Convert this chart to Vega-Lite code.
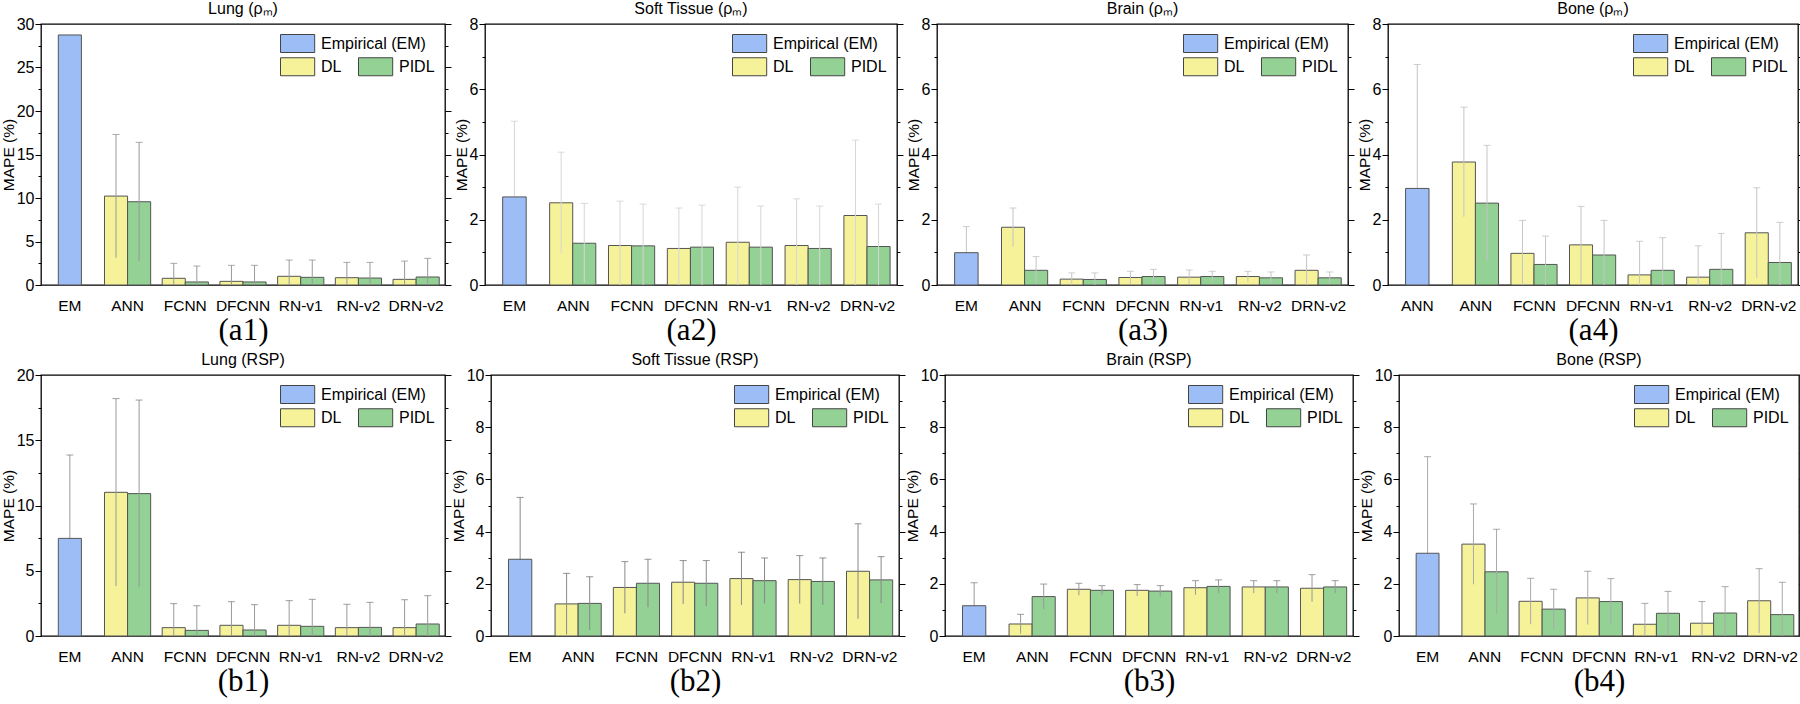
{
  "$schema": "https://vega.github.io/schema/vega-lite/v6.json",
  "padding": {"left": 0, "top": 0, "right": 0, "bottom": 0},
  "background": "white",
  "datasets": {
    "d": [
      {"p": "a1", "model": "EM", "method": "Empirical (EM)", "value": 28.74},
      {"p": "a1", "model": "ANN", "method": "DL", "value": 10.22, "lo": 3.14, "hi": 17.3},
      {"p": "a1", "model": "ANN", "method": "PIDL", "value": 9.57, "lo": 2.74, "hi": 16.4},
      {"p": "a1", "model": "FCNN", "method": "DL", "value": 0.77, "lo": 0, "hi": 2.49},
      {"p": "a1", "model": "FCNN", "method": "PIDL", "value": 0.35, "lo": 0, "hi": 2.18},
      {"p": "a1", "model": "DFCNN", "method": "DL", "value": 0.42, "lo": 0, "hi": 2.26},
      {"p": "a1", "model": "DFCNN", "method": "PIDL", "value": 0.35, "lo": 0, "hi": 2.26},
      {"p": "a1", "model": "RN-v1", "method": "DL", "value": 1.0, "lo": 0, "hi": 2.87},
      {"p": "a1", "model": "RN-v1", "method": "PIDL", "value": 0.88, "lo": 0, "hi": 2.87},
      {"p": "a1", "model": "RN-v2", "method": "DL", "value": 0.84, "lo": 0, "hi": 2.6},
      {"p": "a1", "model": "RN-v2", "method": "PIDL", "value": 0.8, "lo": 0, "hi": 2.6},
      {"p": "a1", "model": "DRN-v2", "method": "DL", "value": 0.65, "lo": 0, "hi": 2.75},
      {"p": "a1", "model": "DRN-v2", "method": "PIDL", "value": 0.92, "lo": 0, "hi": 3.06},

      {"p": "a2", "model": "EM", "method": "Empirical (EM)", "value": 2.7, "lo": 0.38, "hi": 5.02},
      {"p": "a2", "model": "ANN", "method": "DL", "value": 2.52, "lo": 0.97, "hi": 4.07},
      {"p": "a2", "model": "ANN", "method": "PIDL", "value": 1.28, "lo": 0.06, "hi": 2.5},
      {"p": "a2", "model": "FCNN", "method": "DL", "value": 1.21, "lo": 0, "hi": 2.57},
      {"p": "a2", "model": "FCNN", "method": "PIDL", "value": 1.2, "lo": 0, "hi": 2.48},
      {"p": "a2", "model": "DFCNN", "method": "DL", "value": 1.12, "lo": 0, "hi": 2.36},
      {"p": "a2", "model": "DFCNN", "method": "PIDL", "value": 1.16, "lo": 0, "hi": 2.45},
      {"p": "a2", "model": "RN-v1", "method": "DL", "value": 1.31, "lo": 0, "hi": 3.0},
      {"p": "a2", "model": "RN-v1", "method": "PIDL", "value": 1.16, "lo": 0, "hi": 2.42},
      {"p": "a2", "model": "RN-v2", "method": "DL", "value": 1.21, "lo": 0, "hi": 2.64},
      {"p": "a2", "model": "RN-v2", "method": "PIDL", "value": 1.12, "lo": 0, "hi": 2.42},
      {"p": "a2", "model": "DRN-v2", "method": "DL", "value": 2.13, "lo": 0, "hi": 4.44},
      {"p": "a2", "model": "DRN-v2", "method": "PIDL", "value": 1.18, "lo": 0, "hi": 2.48},

      {"p": "a3", "model": "EM", "method": "Empirical (EM)", "value": 0.99, "lo": 0.19, "hi": 1.79},
      {"p": "a3", "model": "ANN", "method": "DL", "value": 1.77, "lo": 1.18, "hi": 2.36},
      {"p": "a3", "model": "ANN", "method": "PIDL", "value": 0.45, "lo": 0.03, "hi": 0.87},
      {"p": "a3", "model": "FCNN", "method": "DL", "value": 0.18, "lo": 0, "hi": 0.37},
      {"p": "a3", "model": "FCNN", "method": "PIDL", "value": 0.17, "lo": 0, "hi": 0.37},
      {"p": "a3", "model": "DFCNN", "method": "DL", "value": 0.23, "lo": 0.04, "hi": 0.42},
      {"p": "a3", "model": "DFCNN", "method": "PIDL", "value": 0.26, "lo": 0.04, "hi": 0.48},
      {"p": "a3", "model": "RN-v1", "method": "DL", "value": 0.24, "lo": 0.02, "hi": 0.46},
      {"p": "a3", "model": "RN-v1", "method": "PIDL", "value": 0.26, "lo": 0.1, "hi": 0.42},
      {"p": "a3", "model": "RN-v2", "method": "DL", "value": 0.26, "lo": 0.1, "hi": 0.42},
      {"p": "a3", "model": "RN-v2", "method": "PIDL", "value": 0.22, "lo": 0.04, "hi": 0.4},
      {"p": "a3", "model": "DRN-v2", "method": "DL", "value": 0.45, "lo": 0, "hi": 0.92},
      {"p": "a3", "model": "DRN-v2", "method": "PIDL", "value": 0.22, "lo": 0.04, "hi": 0.4},

      {"p": "a4", "model": "EM", "method": "Empirical (EM)", "value": 2.96, "lo": 0, "hi": 6.76},
      {"p": "a4", "model": "ANN", "method": "DL", "value": 3.77, "lo": 2.09, "hi": 5.45},
      {"p": "a4", "model": "ANN", "method": "PIDL", "value": 2.51, "lo": 0.74, "hi": 4.28},
      {"p": "a4", "model": "FCNN", "method": "DL", "value": 0.97, "lo": 0, "hi": 1.98},
      {"p": "a4", "model": "FCNN", "method": "PIDL", "value": 0.63, "lo": 0, "hi": 1.5},
      {"p": "a4", "model": "DFCNN", "method": "DL", "value": 1.23, "lo": 0.05, "hi": 2.41},
      {"p": "a4", "model": "DFCNN", "method": "PIDL", "value": 0.92, "lo": 0, "hi": 1.98},
      {"p": "a4", "model": "RN-v1", "method": "DL", "value": 0.31, "lo": 0, "hi": 1.34},
      {"p": "a4", "model": "RN-v1", "method": "PIDL", "value": 0.45, "lo": 0, "hi": 1.45},
      {"p": "a4", "model": "RN-v2", "method": "DL", "value": 0.24, "lo": 0, "hi": 1.2},
      {"p": "a4", "model": "RN-v2", "method": "PIDL", "value": 0.48, "lo": 0, "hi": 1.58},
      {"p": "a4", "model": "DRN-v2", "method": "DL", "value": 1.6, "lo": 0.22, "hi": 2.98},
      {"p": "a4", "model": "DRN-v2", "method": "PIDL", "value": 0.69, "lo": 0, "hi": 1.92},

      {"p": "b1", "model": "EM", "method": "Empirical (EM)", "value": 7.48, "lo": 1.09, "hi": 13.87},
      {"p": "b1", "model": "ANN", "method": "DL", "value": 11.01, "lo": 3.83, "hi": 18.19},
      {"p": "b1", "model": "ANN", "method": "PIDL", "value": 10.91, "lo": 3.74, "hi": 18.08},
      {"p": "b1", "model": "FCNN", "method": "DL", "value": 0.64, "lo": 0, "hi": 2.48},
      {"p": "b1", "model": "FCNN", "method": "PIDL", "value": 0.43, "lo": 0, "hi": 2.32},
      {"p": "b1", "model": "DFCNN", "method": "DL", "value": 0.82, "lo": 0, "hi": 2.63},
      {"p": "b1", "model": "DFCNN", "method": "PIDL", "value": 0.46, "lo": 0, "hi": 2.4},
      {"p": "b1", "model": "RN-v1", "method": "DL", "value": 0.82, "lo": 0, "hi": 2.71},
      {"p": "b1", "model": "RN-v1", "method": "PIDL", "value": 0.74, "lo": 0, "hi": 2.81},
      {"p": "b1", "model": "RN-v2", "method": "DL", "value": 0.64, "lo": 0, "hi": 2.43},
      {"p": "b1", "model": "RN-v2", "method": "PIDL", "value": 0.66, "lo": 0, "hi": 2.58},
      {"p": "b1", "model": "DRN-v2", "method": "DL", "value": 0.64, "lo": 0, "hi": 2.78},
      {"p": "b1", "model": "DRN-v2", "method": "PIDL", "value": 0.92, "lo": 0, "hi": 3.09},

      {"p": "b2", "model": "EM", "method": "Empirical (EM)", "value": 2.94, "lo": 0.57, "hi": 5.31},
      {"p": "b2", "model": "ANN", "method": "DL", "value": 1.23, "lo": 0.06, "hi": 2.4},
      {"p": "b2", "model": "ANN", "method": "PIDL", "value": 1.25, "lo": 0.23, "hi": 2.27},
      {"p": "b2", "model": "FCNN", "method": "DL", "value": 1.86, "lo": 0.87, "hi": 2.85},
      {"p": "b2", "model": "FCNN", "method": "PIDL", "value": 2.02, "lo": 1.1, "hi": 2.94},
      {"p": "b2", "model": "DFCNN", "method": "DL", "value": 2.06, "lo": 1.23, "hi": 2.89},
      {"p": "b2", "model": "DFCNN", "method": "PIDL", "value": 2.02, "lo": 1.15, "hi": 2.89},
      {"p": "b2", "model": "RN-v1", "method": "DL", "value": 2.2, "lo": 1.19, "hi": 3.21},
      {"p": "b2", "model": "RN-v1", "method": "PIDL", "value": 2.12, "lo": 1.25, "hi": 2.99},
      {"p": "b2", "model": "RN-v2", "method": "DL", "value": 2.16, "lo": 1.24, "hi": 3.08},
      {"p": "b2", "model": "RN-v2", "method": "PIDL", "value": 2.09, "lo": 1.19, "hi": 2.99},
      {"p": "b2", "model": "DRN-v2", "method": "DL", "value": 2.48, "lo": 0.66, "hi": 4.3},
      {"p": "b2", "model": "DRN-v2", "method": "PIDL", "value": 2.15, "lo": 1.26, "hi": 3.04},

      {"p": "b3", "model": "EM", "method": "Empirical (EM)", "value": 1.16, "lo": 0.28, "hi": 2.04},
      {"p": "b3", "model": "ANN", "method": "DL", "value": 0.46, "lo": 0.09, "hi": 0.83},
      {"p": "b3", "model": "ANN", "method": "PIDL", "value": 1.51, "lo": 1.03, "hi": 1.99},
      {"p": "b3", "model": "FCNN", "method": "DL", "value": 1.79, "lo": 1.56, "hi": 2.02},
      {"p": "b3", "model": "FCNN", "method": "PIDL", "value": 1.75, "lo": 1.57, "hi": 1.93},
      {"p": "b3", "model": "DFCNN", "method": "DL", "value": 1.75, "lo": 1.53, "hi": 1.97},
      {"p": "b3", "model": "DFCNN", "method": "PIDL", "value": 1.72, "lo": 1.51, "hi": 1.93},
      {"p": "b3", "model": "RN-v1", "method": "DL", "value": 1.85, "lo": 1.58, "hi": 2.12},
      {"p": "b3", "model": "RN-v1", "method": "PIDL", "value": 1.9, "lo": 1.65, "hi": 2.15},
      {"p": "b3", "model": "RN-v2", "method": "DL", "value": 1.88, "lo": 1.64, "hi": 2.12},
      {"p": "b3", "model": "RN-v2", "method": "PIDL", "value": 1.88, "lo": 1.64, "hi": 2.12},
      {"p": "b3", "model": "DRN-v2", "method": "DL", "value": 1.83, "lo": 1.31, "hi": 2.35},
      {"p": "b3", "model": "DRN-v2", "method": "PIDL", "value": 1.88, "lo": 1.64, "hi": 2.12},

      {"p": "b4", "model": "EM", "method": "Empirical (EM)", "value": 3.17, "lo": 0, "hi": 6.87},
      {"p": "b4", "model": "ANN", "method": "DL", "value": 3.52, "lo": 1.98, "hi": 5.06},
      {"p": "b4", "model": "ANN", "method": "PIDL", "value": 2.46, "lo": 0.83, "hi": 4.09},
      {"p": "b4", "model": "FCNN", "method": "DL", "value": 1.33, "lo": 0.45, "hi": 2.21},
      {"p": "b4", "model": "FCNN", "method": "PIDL", "value": 1.03, "lo": 0.27, "hi": 1.79},
      {"p": "b4", "model": "DFCNN", "method": "DL", "value": 1.46, "lo": 0.44, "hi": 2.48},
      {"p": "b4", "model": "DFCNN", "method": "PIDL", "value": 1.32, "lo": 0.44, "hi": 2.2},
      {"p": "b4", "model": "RN-v1", "method": "DL", "value": 0.45, "lo": 0, "hi": 1.25},
      {"p": "b4", "model": "RN-v1", "method": "PIDL", "value": 0.87, "lo": 0.03, "hi": 1.71},
      {"p": "b4", "model": "RN-v2", "method": "DL", "value": 0.49, "lo": 0, "hi": 1.32},
      {"p": "b4", "model": "RN-v2", "method": "PIDL", "value": 0.88, "lo": 0, "hi": 1.89},
      {"p": "b4", "model": "DRN-v2", "method": "DL", "value": 1.35, "lo": 0.12, "hi": 2.58},
      {"p": "b4", "model": "DRN-v2", "method": "PIDL", "value": 0.82, "lo": 0, "hi": 2.06}
    ]
  },
  "data": {"name": "d"},
  "vconcat": [
    {
      "hconcat": [
        {
          "width": 404, "height": 261, "title": "Lung (ρₘ)",
          "transform": [{"filter": "datum.p == 'a1'"}],
          "encoding": {"x": {"field": "model", "type": "nominal", "sort": ["EM","ANN","FCNN","DFCNN","RN-v1","RN-v2","DRN-v2"], "scale": {"paddingInner": 0, "paddingOuter": 0}, "axis": {"title": "(a1)"}}},
          "layer": [
            {"transform": [{"filter": "datum.method == 'Empirical (EM)' && isValid(datum.hi)"}], "mark": {"type": "rule", "color": "#999999"}, "encoding": {"y": {"field": "lo", "type": "quantitative", "scale": {"domain": [0, 30], "nice": false}, "axis": null}, "y2": {"field": "hi"}}},
            {"transform": [{"filter": "datum.method == 'Empirical (EM)' && isValid(datum.hi)"}], "mark": {"type": "tick", "color": "#999999", "size": 7, "thickness": 1}, "encoding": {"y": {"field": "hi", "type": "quantitative", "scale": {"domain": [0, 30], "nice": false}, "axis": null}}},
            {"transform": [{"filter": "datum.method == 'Empirical (EM)'"}], "mark": {"type": "bar", "width": {"band": 0.4}}, "encoding": {"y": {"field": "value", "type": "quantitative", "scale": {"domain": [0, 30], "nice": false}, "axis": {"orient": "left", "title": "MAPE (%)", "format": "d", "values": [0,2.5,5,7.5,10,12.5,15,17.5,20,22.5,25,27.5,30], "labelExpr": "datum.value % 5 == 0 ? datum.label : ''", "tickSize": {"condition": {"test": "datum.value % 5 == 0", "value": 6}, "value": 3}}}, "fill": {"field": "method", "type": "nominal", "scale": {"domain": ["Empirical (EM)"], "range": ["#9dbdf6"]}, "legend": {"title": null}}}},
            {"transform": [{"filter": "datum.method != 'Empirical (EM)'"}], "mark": {"type": "bar"}, "encoding": {"xOffset": {"field": "method", "type": "nominal", "scale": {"domain": ["DL","PIDL"], "paddingInner": 0, "paddingOuter": 0.25}}, "y": {"field": "value", "type": "quantitative", "scale": {"domain": [0, 30], "nice": false}, "axis": {"orient": "right", "title": null, "labels": false, "values": [0,2.5,5,7.5,10,12.5,15,17.5,20,22.5,25,27.5,30], "tickSize": {"condition": {"test": "datum.value % 5 == 0", "value": 6}, "value": 3}}}, "fill": {"field": "method", "type": "nominal", "scale": {"domain": ["DL","PIDL"], "range": ["#f5f29a","#93d195"]}, "legend": {"title": null, "columns": 2}}}},
            {"transform": [{"filter": "datum.method != 'Empirical (EM)'"}], "mark": {"type": "rule", "color": "#999999"}, "encoding": {"xOffset": {"field": "method", "type": "nominal", "scale": {"domain": ["DL","PIDL"], "paddingInner": 0, "paddingOuter": 0.25}}, "y": {"field": "lo", "type": "quantitative", "scale": {"domain": [0, 30], "nice": false}, "axis": null}, "y2": {"field": "hi"}}},
            {"transform": [{"filter": "datum.method != 'Empirical (EM)'"}], "mark": {"type": "tick", "color": "#888888", "size": 7, "thickness": 1}, "encoding": {"xOffset": {"field": "method", "type": "nominal", "scale": {"domain": ["DL","PIDL"], "paddingInner": 0, "paddingOuter": 0.25}}, "y": {"field": "hi", "type": "quantitative", "scale": {"domain": [0, 30], "nice": false}, "axis": null}}}
          ],
          "resolve": {"scale": {"fill": "independent"}, "axis": {"y": "independent"}}
        },
        {
          "width": 412, "height": 261, "title": "Soft Tissue (ρₘ)",
          "transform": [{"filter": "datum.p == 'a2'"}],
          "encoding": {"x": {"field": "model", "type": "nominal", "sort": ["EM","ANN","FCNN","DFCNN","RN-v1","RN-v2","DRN-v2"], "scale": {"paddingInner": 0, "paddingOuter": 0}, "axis": {"title": "(a2)"}}},
          "layer": [
            {"transform": [{"filter": "datum.method == 'Empirical (EM)' && isValid(datum.hi)"}], "mark": {"type": "rule", "color": "#d6d6d6"}, "encoding": {"y": {"field": "lo", "type": "quantitative", "scale": {"domain": [0, 8], "nice": false}, "axis": null}, "y2": {"field": "hi"}}},
            {"transform": [{"filter": "datum.method == 'Empirical (EM)' && isValid(datum.hi)"}], "mark": {"type": "tick", "color": "#cccccc", "size": 7, "thickness": 1}, "encoding": {"y": {"field": "hi", "type": "quantitative", "scale": {"domain": [0, 8], "nice": false}, "axis": null}}},
            {"transform": [{"filter": "datum.method == 'Empirical (EM)'"}], "mark": {"type": "bar", "width": {"band": 0.4}}, "encoding": {"y": {"field": "value", "type": "quantitative", "scale": {"domain": [0, 8], "nice": false}, "axis": {"orient": "left", "title": "MAPE (%)", "format": "d", "values": [0,1,2,3,4,5,6,7,8], "labelExpr": "datum.value % 2 == 0 ? datum.label : ''", "tickSize": {"condition": {"test": "datum.value % 2 == 0", "value": 6}, "value": 3}}}, "fill": {"field": "method", "type": "nominal", "scale": {"domain": ["Empirical (EM)"], "range": ["#9dbdf6"]}, "legend": {"title": null}}}},
            {"transform": [{"filter": "datum.method != 'Empirical (EM)'"}], "mark": {"type": "bar"}, "encoding": {"xOffset": {"field": "method", "type": "nominal", "scale": {"domain": ["DL","PIDL"], "paddingInner": 0, "paddingOuter": 0.25}}, "y": {"field": "value", "type": "quantitative", "scale": {"domain": [0, 8], "nice": false}, "axis": {"orient": "right", "title": null, "labels": false, "values": [0,1,2,3,4,5,6,7,8], "tickSize": {"condition": {"test": "datum.value % 2 == 0", "value": 6}, "value": 3}}}, "fill": {"field": "method", "type": "nominal", "scale": {"domain": ["DL","PIDL"], "range": ["#f5f29a","#93d195"]}, "legend": {"title": null, "columns": 2}}}},
            {"transform": [{"filter": "datum.method != 'Empirical (EM)'"}], "mark": {"type": "rule", "color": "#d6d6d6"}, "encoding": {"xOffset": {"field": "method", "type": "nominal", "scale": {"domain": ["DL","PIDL"], "paddingInner": 0, "paddingOuter": 0.25}}, "y": {"field": "lo", "type": "quantitative", "scale": {"domain": [0, 8], "nice": false}, "axis": null}, "y2": {"field": "hi"}}},
            {"transform": [{"filter": "datum.method != 'Empirical (EM)'"}], "mark": {"type": "tick", "color": "#cccccc", "size": 7, "thickness": 1}, "encoding": {"xOffset": {"field": "method", "type": "nominal", "scale": {"domain": ["DL","PIDL"], "paddingInner": 0, "paddingOuter": 0.25}}, "y": {"field": "hi", "type": "quantitative", "scale": {"domain": [0, 8], "nice": false}, "axis": null}}}
          ],
          "resolve": {"scale": {"fill": "independent"}, "axis": {"y": "independent"}}
        },
        {
          "width": 411, "height": 261, "title": "Brain (ρₘ)",
          "transform": [{"filter": "datum.p == 'a3'"}],
          "encoding": {"x": {"field": "model", "type": "nominal", "sort": ["EM","ANN","FCNN","DFCNN","RN-v1","RN-v2","DRN-v2"], "scale": {"paddingInner": 0, "paddingOuter": 0}, "axis": {"title": "(a3)"}}},
          "layer": [
            {"transform": [{"filter": "datum.method == 'Empirical (EM)' && isValid(datum.hi)"}], "mark": {"type": "rule", "color": "#c4c4c4"}, "encoding": {"y": {"field": "lo", "type": "quantitative", "scale": {"domain": [0, 8], "nice": false}, "axis": null}, "y2": {"field": "hi"}}},
            {"transform": [{"filter": "datum.method == 'Empirical (EM)' && isValid(datum.hi)"}], "mark": {"type": "tick", "color": "#bbbbbb", "size": 7, "thickness": 1}, "encoding": {"y": {"field": "hi", "type": "quantitative", "scale": {"domain": [0, 8], "nice": false}, "axis": null}}},
            {"transform": [{"filter": "datum.method == 'Empirical (EM)'"}], "mark": {"type": "bar", "width": {"band": 0.4}}, "encoding": {"y": {"field": "value", "type": "quantitative", "scale": {"domain": [0, 8], "nice": false}, "axis": {"orient": "left", "title": "MAPE (%)", "format": "d", "values": [0,1,2,3,4,5,6,7,8], "labelExpr": "datum.value % 2 == 0 ? datum.label : ''", "tickSize": {"condition": {"test": "datum.value % 2 == 0", "value": 6}, "value": 3}}}, "fill": {"field": "method", "type": "nominal", "scale": {"domain": ["Empirical (EM)"], "range": ["#9dbdf6"]}, "legend": {"title": null}}}},
            {"transform": [{"filter": "datum.method != 'Empirical (EM)'"}], "mark": {"type": "bar"}, "encoding": {"xOffset": {"field": "method", "type": "nominal", "scale": {"domain": ["DL","PIDL"], "paddingInner": 0, "paddingOuter": 0.25}}, "y": {"field": "value", "type": "quantitative", "scale": {"domain": [0, 8], "nice": false}, "axis": {"orient": "right", "title": null, "labels": false, "values": [0,1,2,3,4,5,6,7,8], "tickSize": {"condition": {"test": "datum.value % 2 == 0", "value": 6}, "value": 3}}}, "fill": {"field": "method", "type": "nominal", "scale": {"domain": ["DL","PIDL"], "range": ["#f5f29a","#93d195"]}, "legend": {"title": null, "columns": 2}}}},
            {"transform": [{"filter": "datum.method != 'Empirical (EM)'"}], "mark": {"type": "rule", "color": "#c4c4c4"}, "encoding": {"xOffset": {"field": "method", "type": "nominal", "scale": {"domain": ["DL","PIDL"], "paddingInner": 0, "paddingOuter": 0.25}}, "y": {"field": "lo", "type": "quantitative", "scale": {"domain": [0, 8], "nice": false}, "axis": null}, "y2": {"field": "hi"}}},
            {"transform": [{"filter": "datum.method != 'Empirical (EM)'"}], "mark": {"type": "tick", "color": "#bbbbbb", "size": 7, "thickness": 1}, "encoding": {"xOffset": {"field": "method", "type": "nominal", "scale": {"domain": ["DL","PIDL"], "paddingInner": 0, "paddingOuter": 0.25}}, "y": {"field": "hi", "type": "quantitative", "scale": {"domain": [0, 8], "nice": false}, "axis": null}}}
          ],
          "resolve": {"scale": {"fill": "independent"}, "axis": {"y": "independent"}}
        },
        {
          "width": 410, "height": 261, "title": "Bone (ρₘ)",
          "transform": [{"filter": "datum.p == 'a4'"}],
          "encoding": {"x": {"field": "model", "type": "nominal", "sort": ["EM","ANN","FCNN","DFCNN","RN-v1","RN-v2","DRN-v2"], "scale": {"paddingInner": 0, "paddingOuter": 0}, "axis": {"title": "(a4)", "labelExpr": "datum.value == 'EM' ? 'ANN' : datum.label"}}},
          "layer": [
            {"transform": [{"filter": "datum.method == 'Empirical (EM)' && isValid(datum.hi)"}], "mark": {"type": "rule", "color": "#c4c4c4"}, "encoding": {"y": {"field": "lo", "type": "quantitative", "scale": {"domain": [0, 8], "nice": false}, "axis": null}, "y2": {"field": "hi"}}},
            {"transform": [{"filter": "datum.method == 'Empirical (EM)' && isValid(datum.hi)"}], "mark": {"type": "tick", "color": "#bbbbbb", "size": 7, "thickness": 1}, "encoding": {"y": {"field": "hi", "type": "quantitative", "scale": {"domain": [0, 8], "nice": false}, "axis": null}}},
            {"transform": [{"filter": "datum.method == 'Empirical (EM)'"}], "mark": {"type": "bar", "width": {"band": 0.4}}, "encoding": {"y": {"field": "value", "type": "quantitative", "scale": {"domain": [0, 8], "nice": false}, "axis": {"orient": "left", "title": "MAPE (%)", "format": "d", "values": [0,1,2,3,4,5,6,7,8], "labelExpr": "datum.value % 2 == 0 ? datum.label : ''", "tickSize": {"condition": {"test": "datum.value % 2 == 0", "value": 6}, "value": 3}}}, "fill": {"field": "method", "type": "nominal", "scale": {"domain": ["Empirical (EM)"], "range": ["#9dbdf6"]}, "legend": {"title": null}}}},
            {"transform": [{"filter": "datum.method != 'Empirical (EM)'"}], "mark": {"type": "bar"}, "encoding": {"xOffset": {"field": "method", "type": "nominal", "scale": {"domain": ["DL","PIDL"], "paddingInner": 0, "paddingOuter": 0.25}}, "y": {"field": "value", "type": "quantitative", "scale": {"domain": [0, 8], "nice": false}, "axis": {"orient": "right", "title": null, "labels": false, "values": [0,1,2,3,4,5,6,7,8], "tickSize": {"condition": {"test": "datum.value % 2 == 0", "value": 6}, "value": 3}}}, "fill": {"field": "method", "type": "nominal", "scale": {"domain": ["DL","PIDL"], "range": ["#f5f29a","#93d195"]}, "legend": {"title": null, "columns": 2}}}},
            {"transform": [{"filter": "datum.method != 'Empirical (EM)'"}], "mark": {"type": "rule", "color": "#c4c4c4"}, "encoding": {"xOffset": {"field": "method", "type": "nominal", "scale": {"domain": ["DL","PIDL"], "paddingInner": 0, "paddingOuter": 0.25}}, "y": {"field": "lo", "type": "quantitative", "scale": {"domain": [0, 8], "nice": false}, "axis": null}, "y2": {"field": "hi"}}},
            {"transform": [{"filter": "datum.method != 'Empirical (EM)'"}], "mark": {"type": "tick", "color": "#bbbbbb", "size": 7, "thickness": 1}, "encoding": {"xOffset": {"field": "method", "type": "nominal", "scale": {"domain": ["DL","PIDL"], "paddingInner": 0, "paddingOuter": 0.25}}, "y": {"field": "hi", "type": "quantitative", "scale": {"domain": [0, 8], "nice": false}, "axis": null}}}
          ],
          "resolve": {"scale": {"fill": "independent"}, "axis": {"y": "independent"}}
        }
      ],
      "spacing": 0
    },
    {
      "hconcat": [
        {
          "width": 404, "height": 261, "title": "Lung (RSP)",
          "transform": [{"filter": "datum.p == 'b1'"}],
          "encoding": {"x": {"field": "model", "type": "nominal", "sort": ["EM","ANN","FCNN","DFCNN","RN-v1","RN-v2","DRN-v2"], "scale": {"paddingInner": 0, "paddingOuter": 0}, "axis": {"title": "(b1)"}}},
          "layer": [
            {"transform": [{"filter": "datum.method == 'Empirical (EM)' && isValid(datum.hi)"}], "mark": {"type": "rule", "color": "#999999"}, "encoding": {"y": {"field": "lo", "type": "quantitative", "scale": {"domain": [0, 20], "nice": false}, "axis": null}, "y2": {"field": "hi"}}},
            {"transform": [{"filter": "datum.method == 'Empirical (EM)' && isValid(datum.hi)"}], "mark": {"type": "tick", "color": "#777777", "size": 7, "thickness": 1}, "encoding": {"y": {"field": "hi", "type": "quantitative", "scale": {"domain": [0, 20], "nice": false}, "axis": null}}},
            {"transform": [{"filter": "datum.method == 'Empirical (EM)'"}], "mark": {"type": "bar", "width": {"band": 0.4}}, "encoding": {"y": {"field": "value", "type": "quantitative", "scale": {"domain": [0, 20], "nice": false}, "axis": {"orient": "left", "title": "MAPE (%)", "format": "d", "values": [0,2.5,5,7.5,10,12.5,15,17.5,20], "labelExpr": "datum.value % 5 == 0 ? datum.label : ''", "tickSize": {"condition": {"test": "datum.value % 5 == 0", "value": 6}, "value": 3}}}, "fill": {"field": "method", "type": "nominal", "scale": {"domain": ["Empirical (EM)"], "range": ["#9dbdf6"]}, "legend": {"title": null}}}},
            {"transform": [{"filter": "datum.method != 'Empirical (EM)'"}], "mark": {"type": "bar"}, "encoding": {"xOffset": {"field": "method", "type": "nominal", "scale": {"domain": ["DL","PIDL"], "paddingInner": 0, "paddingOuter": 0.25}}, "y": {"field": "value", "type": "quantitative", "scale": {"domain": [0, 20], "nice": false}, "axis": {"orient": "right", "title": null, "labels": false, "values": [0,2.5,5,7.5,10,12.5,15,17.5,20], "tickSize": {"condition": {"test": "datum.value % 5 == 0", "value": 6}, "value": 3}}}, "fill": {"field": "method", "type": "nominal", "scale": {"domain": ["DL","PIDL"], "range": ["#f5f29a","#93d195"]}, "legend": {"title": null, "columns": 2}}}},
            {"transform": [{"filter": "datum.method != 'Empirical (EM)'"}], "mark": {"type": "rule", "color": "#999999"}, "encoding": {"xOffset": {"field": "method", "type": "nominal", "scale": {"domain": ["DL","PIDL"], "paddingInner": 0, "paddingOuter": 0.25}}, "y": {"field": "lo", "type": "quantitative", "scale": {"domain": [0, 20], "nice": false}, "axis": null}, "y2": {"field": "hi"}}},
            {"transform": [{"filter": "datum.method != 'Empirical (EM)'"}], "mark": {"type": "tick", "color": "#777777", "size": 7, "thickness": 1}, "encoding": {"xOffset": {"field": "method", "type": "nominal", "scale": {"domain": ["DL","PIDL"], "paddingInner": 0, "paddingOuter": 0.25}}, "y": {"field": "hi", "type": "quantitative", "scale": {"domain": [0, 20], "nice": false}, "axis": null}}}
          ],
          "resolve": {"scale": {"fill": "independent"}, "axis": {"y": "independent"}}
        },
        {
          "width": 408, "height": 261, "title": "Soft Tissue (RSP)",
          "transform": [{"filter": "datum.p == 'b2'"}],
          "encoding": {"x": {"field": "model", "type": "nominal", "sort": ["EM","ANN","FCNN","DFCNN","RN-v1","RN-v2","DRN-v2"], "scale": {"paddingInner": 0, "paddingOuter": 0}, "axis": {"title": "(b2)"}}},
          "layer": [
            {"transform": [{"filter": "datum.method == 'Empirical (EM)' && isValid(datum.hi)"}], "mark": {"type": "rule", "color": "#888888"}, "encoding": {"y": {"field": "lo", "type": "quantitative", "scale": {"domain": [0, 10], "nice": false}, "axis": null}, "y2": {"field": "hi"}}},
            {"transform": [{"filter": "datum.method == 'Empirical (EM)' && isValid(datum.hi)"}], "mark": {"type": "tick", "color": "#666666", "size": 7, "thickness": 1}, "encoding": {"y": {"field": "hi", "type": "quantitative", "scale": {"domain": [0, 10], "nice": false}, "axis": null}}},
            {"transform": [{"filter": "datum.method == 'Empirical (EM)'"}], "mark": {"type": "bar", "width": {"band": 0.4}}, "encoding": {"y": {"field": "value", "type": "quantitative", "scale": {"domain": [0, 10], "nice": false}, "axis": {"orient": "left", "title": "MAPE (%)", "format": "d", "values": [0,1,2,3,4,5,6,7,8,9,10], "labelExpr": "datum.value % 2 == 0 ? datum.label : ''", "tickSize": {"condition": {"test": "datum.value % 2 == 0", "value": 6}, "value": 3}}}, "fill": {"field": "method", "type": "nominal", "scale": {"domain": ["Empirical (EM)"], "range": ["#9dbdf6"]}, "legend": {"title": null}}}},
            {"transform": [{"filter": "datum.method != 'Empirical (EM)'"}], "mark": {"type": "bar"}, "encoding": {"xOffset": {"field": "method", "type": "nominal", "scale": {"domain": ["DL","PIDL"], "paddingInner": 0, "paddingOuter": 0.25}}, "y": {"field": "value", "type": "quantitative", "scale": {"domain": [0, 10], "nice": false}, "axis": {"orient": "right", "title": null, "labels": false, "values": [0,1,2,3,4,5,6,7,8,9,10], "tickSize": {"condition": {"test": "datum.value % 2 == 0", "value": 6}, "value": 3}}}, "fill": {"field": "method", "type": "nominal", "scale": {"domain": ["DL","PIDL"], "range": ["#f5f29a","#93d195"]}, "legend": {"title": null, "columns": 2}}}},
            {"transform": [{"filter": "datum.method != 'Empirical (EM)'"}], "mark": {"type": "rule", "color": "#888888"}, "encoding": {"xOffset": {"field": "method", "type": "nominal", "scale": {"domain": ["DL","PIDL"], "paddingInner": 0, "paddingOuter": 0.25}}, "y": {"field": "lo", "type": "quantitative", "scale": {"domain": [0, 10], "nice": false}, "axis": null}, "y2": {"field": "hi"}}},
            {"transform": [{"filter": "datum.method != 'Empirical (EM)'"}], "mark": {"type": "tick", "color": "#666666", "size": 7, "thickness": 1}, "encoding": {"xOffset": {"field": "method", "type": "nominal", "scale": {"domain": ["DL","PIDL"], "paddingInner": 0, "paddingOuter": 0.25}}, "y": {"field": "hi", "type": "quantitative", "scale": {"domain": [0, 10], "nice": false}, "axis": null}}}
          ],
          "resolve": {"scale": {"fill": "independent"}, "axis": {"y": "independent"}}
        },
        {
          "width": 408, "height": 261, "title": "Brain (RSP)",
          "transform": [{"filter": "datum.p == 'b3'"}],
          "encoding": {"x": {"field": "model", "type": "nominal", "sort": ["EM","ANN","FCNN","DFCNN","RN-v1","RN-v2","DRN-v2"], "scale": {"paddingInner": 0, "paddingOuter": 0}, "axis": {"title": "(b3)"}}},
          "layer": [
            {"transform": [{"filter": "datum.method == 'Empirical (EM)' && isValid(datum.hi)"}], "mark": {"type": "rule", "color": "#999999"}, "encoding": {"y": {"field": "lo", "type": "quantitative", "scale": {"domain": [0, 10], "nice": false}, "axis": null}, "y2": {"field": "hi"}}},
            {"transform": [{"filter": "datum.method == 'Empirical (EM)' && isValid(datum.hi)"}], "mark": {"type": "tick", "color": "#777777", "size": 7, "thickness": 1}, "encoding": {"y": {"field": "hi", "type": "quantitative", "scale": {"domain": [0, 10], "nice": false}, "axis": null}}},
            {"transform": [{"filter": "datum.method == 'Empirical (EM)'"}], "mark": {"type": "bar", "width": {"band": 0.4}}, "encoding": {"y": {"field": "value", "type": "quantitative", "scale": {"domain": [0, 10], "nice": false}, "axis": {"orient": "left", "title": "MAPE (%)", "format": "d", "values": [0,1,2,3,4,5,6,7,8,9,10], "labelExpr": "datum.value % 2 == 0 ? datum.label : ''", "tickSize": {"condition": {"test": "datum.value % 2 == 0", "value": 6}, "value": 3}}}, "fill": {"field": "method", "type": "nominal", "scale": {"domain": ["Empirical (EM)"], "range": ["#9dbdf6"]}, "legend": {"title": null}}}},
            {"transform": [{"filter": "datum.method != 'Empirical (EM)'"}], "mark": {"type": "bar"}, "encoding": {"xOffset": {"field": "method", "type": "nominal", "scale": {"domain": ["DL","PIDL"], "paddingInner": 0, "paddingOuter": 0.25}}, "y": {"field": "value", "type": "quantitative", "scale": {"domain": [0, 10], "nice": false}, "axis": {"orient": "right", "title": null, "labels": false, "values": [0,1,2,3,4,5,6,7,8,9,10], "tickSize": {"condition": {"test": "datum.value % 2 == 0", "value": 6}, "value": 3}}}, "fill": {"field": "method", "type": "nominal", "scale": {"domain": ["DL","PIDL"], "range": ["#f5f29a","#93d195"]}, "legend": {"title": null, "columns": 2}}}},
            {"transform": [{"filter": "datum.method != 'Empirical (EM)'"}], "mark": {"type": "rule", "color": "#999999"}, "encoding": {"xOffset": {"field": "method", "type": "nominal", "scale": {"domain": ["DL","PIDL"], "paddingInner": 0, "paddingOuter": 0.25}}, "y": {"field": "lo", "type": "quantitative", "scale": {"domain": [0, 10], "nice": false}, "axis": null}, "y2": {"field": "hi"}}},
            {"transform": [{"filter": "datum.method != 'Empirical (EM)'"}], "mark": {"type": "tick", "color": "#777777", "size": 7, "thickness": 1}, "encoding": {"xOffset": {"field": "method", "type": "nominal", "scale": {"domain": ["DL","PIDL"], "paddingInner": 0, "paddingOuter": 0.25}}, "y": {"field": "hi", "type": "quantitative", "scale": {"domain": [0, 10], "nice": false}, "axis": null}}}
          ],
          "resolve": {"scale": {"fill": "independent"}, "axis": {"y": "independent"}}
        },
        {
          "width": 400, "height": 261, "title": "Bone (RSP)",
          "transform": [{"filter": "datum.p == 'b4'"}],
          "encoding": {"x": {"field": "model", "type": "nominal", "sort": ["EM","ANN","FCNN","DFCNN","RN-v1","RN-v2","DRN-v2"], "scale": {"paddingInner": 0, "paddingOuter": 0}, "axis": {"title": "(b4)"}}},
          "layer": [
            {"transform": [{"filter": "datum.method == 'Empirical (EM)' && isValid(datum.hi)"}], "mark": {"type": "rule", "color": "#aaaaaa"}, "encoding": {"y": {"field": "lo", "type": "quantitative", "scale": {"domain": [0, 10], "nice": false}, "axis": null}, "y2": {"field": "hi"}}},
            {"transform": [{"filter": "datum.method == 'Empirical (EM)' && isValid(datum.hi)"}], "mark": {"type": "tick", "color": "#888888", "size": 7, "thickness": 1}, "encoding": {"y": {"field": "hi", "type": "quantitative", "scale": {"domain": [0, 10], "nice": false}, "axis": null}}},
            {"transform": [{"filter": "datum.method == 'Empirical (EM)'"}], "mark": {"type": "bar", "width": {"band": 0.4}}, "encoding": {"y": {"field": "value", "type": "quantitative", "scale": {"domain": [0, 10], "nice": false}, "axis": {"orient": "left", "title": "MAPE (%)", "format": "d", "values": [0,1,2,3,4,5,6,7,8,9,10], "labelExpr": "datum.value % 2 == 0 ? datum.label : ''", "tickSize": {"condition": {"test": "datum.value % 2 == 0", "value": 6}, "value": 3}}}, "fill": {"field": "method", "type": "nominal", "scale": {"domain": ["Empirical (EM)"], "range": ["#9dbdf6"]}, "legend": {"title": null}}}},
            {"transform": [{"filter": "datum.method != 'Empirical (EM)'"}], "mark": {"type": "bar"}, "encoding": {"xOffset": {"field": "method", "type": "nominal", "scale": {"domain": ["DL","PIDL"], "paddingInner": 0, "paddingOuter": 0.25}}, "y": {"field": "value", "type": "quantitative", "scale": {"domain": [0, 10], "nice": false}, "axis": {"orient": "right", "title": null, "labels": false, "values": [0,1,2,3,4,5,6,7,8,9,10], "tickSize": {"condition": {"test": "datum.value % 2 == 0", "value": 6}, "value": 3}}}, "fill": {"field": "method", "type": "nominal", "scale": {"domain": ["DL","PIDL"], "range": ["#f5f29a","#93d195"]}, "legend": {"title": null, "columns": 2}}}},
            {"transform": [{"filter": "datum.method != 'Empirical (EM)'"}], "mark": {"type": "rule", "color": "#aaaaaa"}, "encoding": {"xOffset": {"field": "method", "type": "nominal", "scale": {"domain": ["DL","PIDL"], "paddingInner": 0, "paddingOuter": 0.25}}, "y": {"field": "lo", "type": "quantitative", "scale": {"domain": [0, 10], "nice": false}, "axis": null}, "y2": {"field": "hi"}}},
            {"transform": [{"filter": "datum.method != 'Empirical (EM)'"}], "mark": {"type": "tick", "color": "#888888", "size": 7, "thickness": 1}, "encoding": {"xOffset": {"field": "method", "type": "nominal", "scale": {"domain": ["DL","PIDL"], "paddingInner": 0, "paddingOuter": 0.25}}, "y": {"field": "hi", "type": "quantitative", "scale": {"domain": [0, 10], "nice": false}, "axis": null}}}
          ],
          "resolve": {"scale": {"fill": "independent"}, "axis": {"y": "independent"}}
        }
      ],
      "spacing": -3
    }
  ],
  "spacing": 4,
  "config": {
    "font": "Liberation Sans",
    "view": {"stroke": "#000000", "strokeWidth": 1.3},
    "bar": {"stroke": "#555555", "strokeWidth": 1},
    "title": {"font": "Liberation Sans", "fontSize": 16, "fontWeight": "normal", "color": "#000000", "offset": -1},
    "axis": {"grid": false, "domain": false, "labelFont": "Liberation Sans", "titleFont": "Liberation Sans", "labelColor": "#000000", "titleColor": "#000000", "tickColor": "#000000", "titleFontWeight": "normal"},
    "axisY": {"labelFontSize": 16, "titleFontSize": 15.5, "labelPadding": 1, "titlePadding": 0},
    "axisX": {"labelFontSize": 15.5, "labelAngle": 0, "ticks": false, "labelPadding": 13, "titleFont": "Liberation Serif", "titleFontSize": 31, "titleFontWeight": "normal", "titlePadding": 2},
    "legend": {"orient": "top-right", "offset": 10, "padding": 0, "labelFont": "Liberation Sans", "labelFontSize": 16, "labelColor": "#000000", "symbolType": "M-1,-1H2.8V1H-1Z", "symbolSize": 324, "labelOffset": 22, "columnPadding": 14, "rowPadding": 2, "symbolStrokeColor": "#444444", "symbolStrokeWidth": 1, "layout": {"direction": "vertical", "margin": 2}}
  }
}
